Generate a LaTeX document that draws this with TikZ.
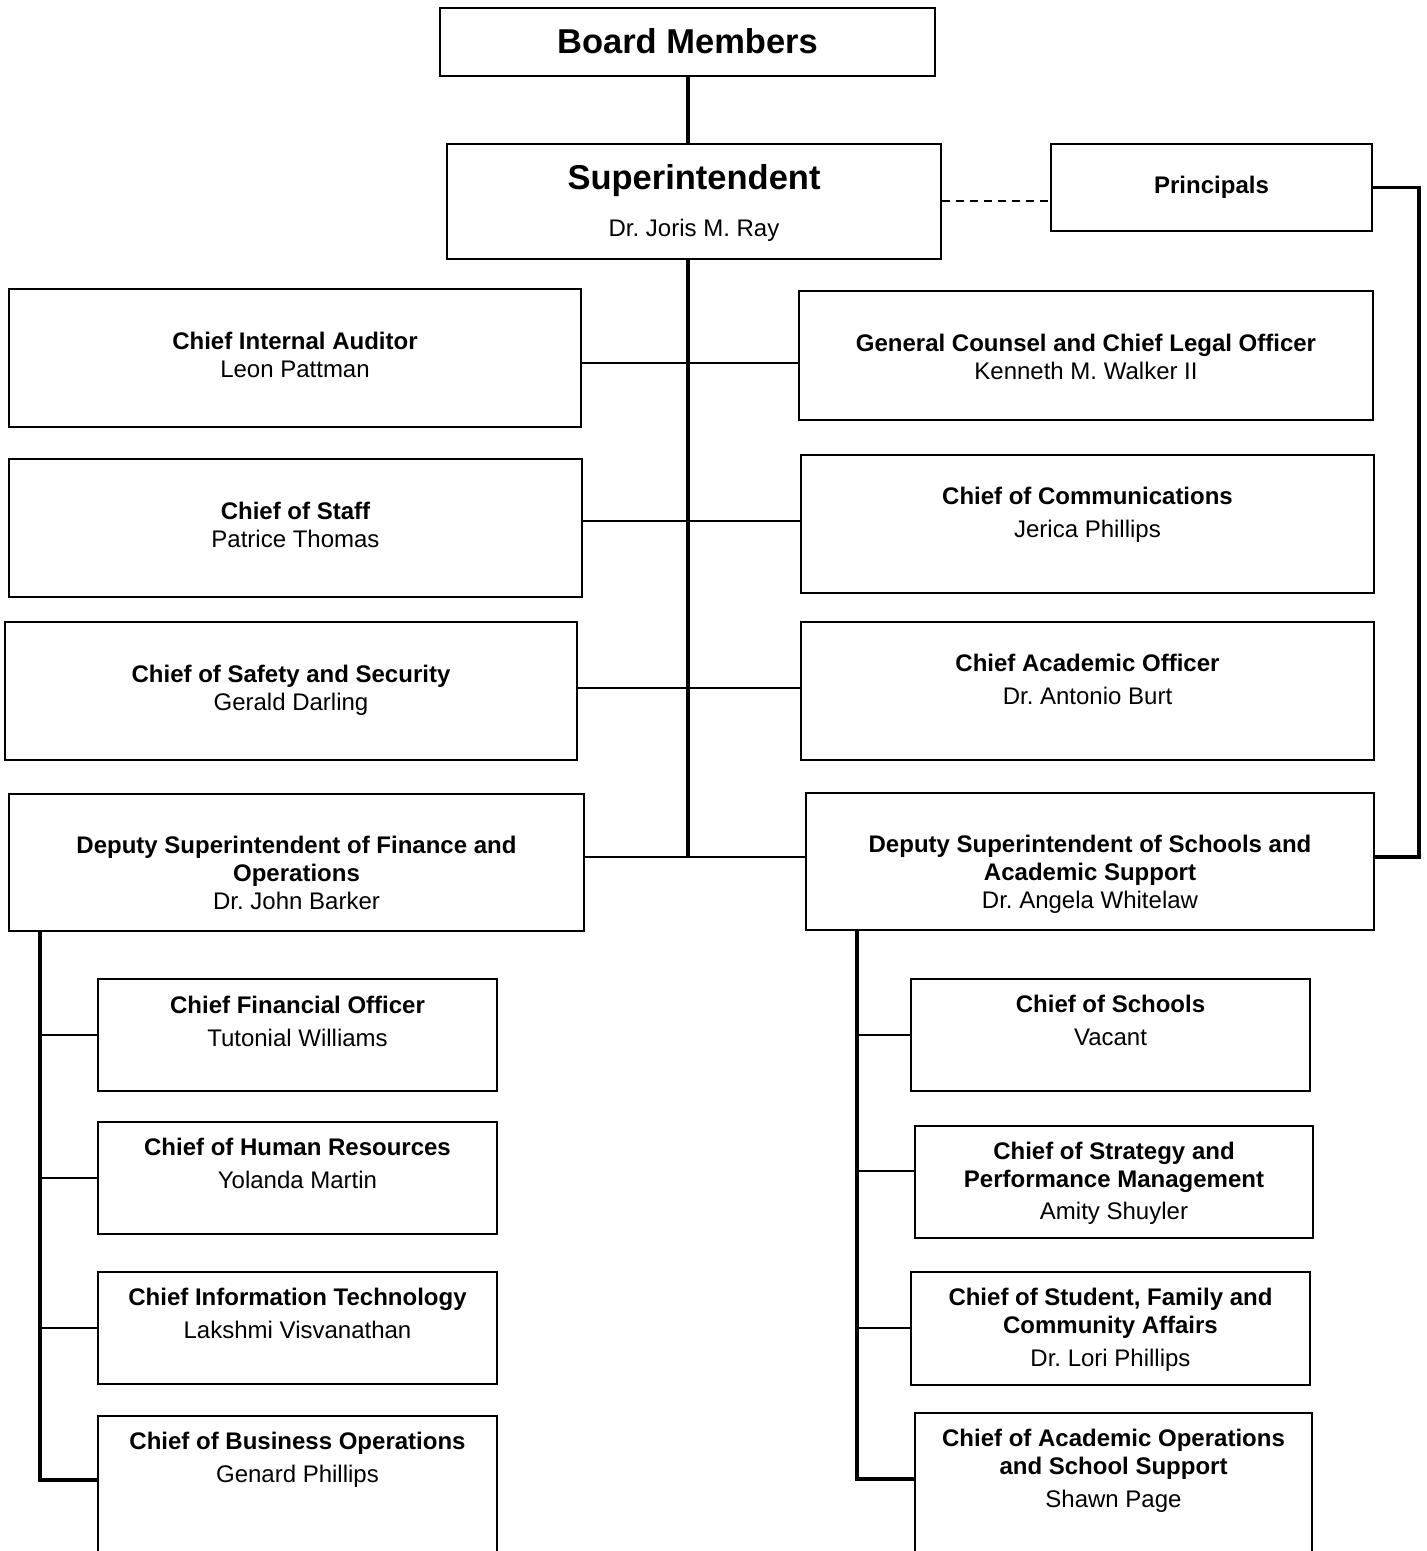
\documentclass[tikz,border=0pt]{standalone}
\usepackage{fontspec}
\setmainfont{Liberation Sans}
\frenchspacing
\begin{document}
\begin{tikzpicture}[x=1pt, y=-1pt,
  box/.style={draw, rectangle, line width=1.8pt, align=center, anchor=north, inner xsep=0pt, inner ysep=0pt, font=\fontsize{24}{28}\selectfont},
  link/.style={line width=2pt},
  trunk/.style={line width=3.4pt},
  branch/.style={line width=2.8pt}]
\useasboundingbox (0,0) rectangle (1427,1551);
\node[box, minimum width=495pt, text height=46pt, text depth=22pt, font=\fontsize{34.5}{40}\selectfont\bfseries] (board) at (687.5, 7) {Board Members};
\node[box, minimum width=494pt, text height=92.5pt, text depth=22.5pt] (supt) at (694, 143) {{\fontsize{34.5}{40}\selectfont\bfseries Superintendent}\\[19pt]Dr. Joris M. Ray};
\node[box, minimum width=321pt, text height=49.5pt, text depth=37.5pt] (princ) at (1211.5, 143) {\bfseries Principals};
\node[box, minimum width=572pt, text height=88.5pt, text depth=49.5pt] (audit) at (295, 288) {\textbf{Chief Internal Auditor}\\Leon Pattman};
\node[box, minimum width=573pt, text height=88.5pt, text depth=49.5pt] (staff) at (295.5, 458) {\textbf{Chief of Staff}\\Patrice Thomas};
\node[box, minimum width=572pt, text height=88.5pt, text depth=49.5pt] (safety) at (291, 621) {\textbf{Chief of Safety and Security}\\Gerald Darling};
\node[box, minimum width=575pt, text height=115.5pt, text depth=21.5pt] (depfin) at (296.5, 793) {\textbf{Deputy Superintendent of Finance and}\\\textbf{Operations}\\Dr. John Barker};
\node[box, minimum width=574pt, text height=88.5pt, text depth=40.5pt] (counsel) at (1086, 290) {\textbf{General Counsel and Chief Legal Officer}\\Kenneth M. Walker II};
\node[box, minimum width=573pt, text height=82.5pt, text depth=55.5pt] (comms) at (1087.5, 454) {\textbf{Chief of Communications}\\[5pt]Jerica Phillips};
\node[box, minimum width=573pt, text height=82.5pt, text depth=55.5pt] (acad) at (1087.5, 621) {\textbf{Chief Academic Officer}\\[5pt]Dr. Antonio Burt};
\node[box, minimum width=568pt, text height=115.5pt, text depth=21.5pt] (depsch) at (1090, 792) {\textbf{Deputy Superintendent of Schools and}\\\textbf{Academic Support}\\Dr. Angela Whitelaw};
\node[box, minimum width=399pt, text height=67.5pt, text depth=44.5pt] (cfo) at (297.5, 978) {\textbf{Chief Financial Officer}\\[5pt]Tutonial Williams};
\node[box, minimum width=399pt, text height=66.5pt, text depth=45.5pt] (hr) at (297.5, 1121) {\textbf{Chief of Human Resources}\\[5pt]Yolanda Martin};
\node[box, minimum width=399pt, text height=66.5pt, text depth=45.5pt] (infotech) at (297.5, 1271) {\textbf{Chief Information Technology}\\[5pt]Lakshmi Visvanathan};
\node[box, minimum width=399pt, text height=66.5pt, text depth=150pt] (bizops) at (297.5, 1415) {\textbf{Chief of Business Operations}\\[5pt]Genard Phillips};
\node[box, minimum width=399pt, text height=66.5pt, text depth=45.5pt] (schools) at (1110.5, 978) {\textbf{Chief of Schools}\\[5pt]Vacant};
\node[box, minimum width=398pt, text height=93.5pt, text depth=18.5pt] (strategy) at (1114, 1125) {\textbf{Chief of Strategy and}\\\textbf{Performance Management}\\[4pt]Amity Shuyler};
\node[box, minimum width=399pt, text height=94.5pt, text depth=18.5pt] (student) at (1110.5, 1271) {\textbf{Chief of Student, Family and}\\\textbf{Community Affairs}\\[5pt]Dr. Lori Phillips};
\node[box, minimum width=397pt, text height=94.5pt, text depth=100pt] (acadops) at (1113.5, 1412) {\textbf{Chief of Academic Operations}\\\textbf{and School Support}\\[5pt]Shawn Page};
\coordinate (j1) at (688, 363);
\coordinate (j2) at (688, 521);
\coordinate (j3) at (688, 688);
\coordinate (hub) at (688, 857);
\coordinate (rail) at (1419, 520);
\coordinate (lft) at (40, 1480);
\coordinate (rgt) at (857, 1479);
\draw[trunk] (board.south -| hub) -- (supt.north -| hub);
\draw[link, dashed, dash pattern=on 8pt off 6pt] (supt.east) -- (supt.east -| princ.west);
\draw[trunk] (princ.east) -| (rail) |- (depsch.east |- hub);
\draw[trunk] (supt.south -| hub) -- (hub);
\draw[link] (audit.east |- j1) -- (counsel.west |- j1);
\draw[link] (staff.east |- j2) -- (comms.west |- j2);
\draw[link] (safety.east |- j3) -- (acad.west |- j3);
\draw[branch] (depfin.east |- hub) -- (depsch.west |- hub);
\draw[trunk] (depfin.south -| lft) -- (lft) -- (bizops.west |- lft);
\draw[branch] (cfo.west) -- (cfo.west -| lft);
\draw[branch] (hr.west) -- (hr.west -| lft);
\draw[link] (infotech.west) -- (infotech.west -| lft);
\draw[trunk] (depsch.south -| rgt) -- (rgt) -- (acadops.west |- rgt);
\draw[link] (schools.west) -- (schools.west -| rgt);
\draw[branch] ([yshift=11pt]strategy.west) -- ([yshift=11pt]strategy.west -| rgt);
\draw[link] (student.west) -- (student.west -| rgt);
\end{tikzpicture}
\end{document}
